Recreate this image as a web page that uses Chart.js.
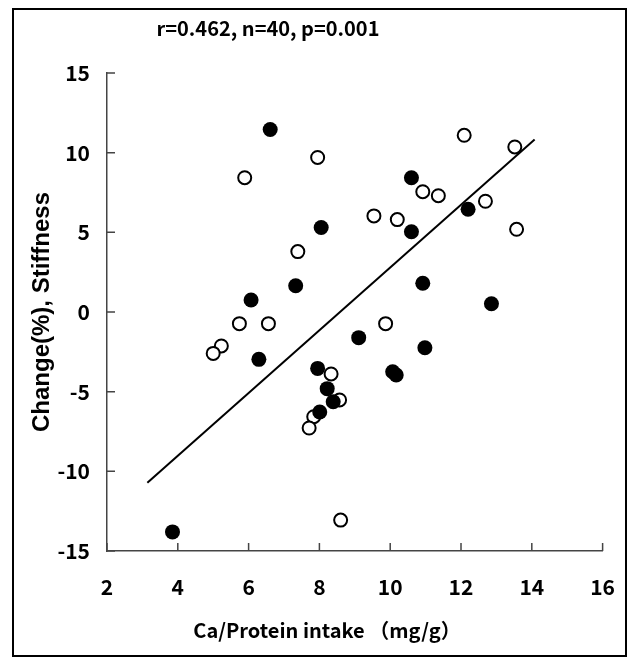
<!DOCTYPE html>
<html>
<head>
<meta charset="utf-8">
<script src="https://cdn.jsdelivr.net/npm/chart.js@4.4.1/dist/chart.umd.min.js"></script>
<style>
  html, body { margin: 0; padding: 0; background: #fff; }
  #wrap { width: 638px; height: 667px; }
</style>
</head>
<body>
<div id="wrap"><canvas id="chart"></canvas></div>
<script>
// values
const filledX = [3.85, 6.61, 8.05, 7.33, 6.07, 6.29, 10.6, 12.2, 10.6, 10.92, 12.86, 9.11, 10.98, 10.07, 10.17, 7.95, 8.22, 8.39, 8.01];
const filledY = [-13.8, 11.45, 5.3, 1.65, 0.75, -2.97, 8.43, 6.45, 5.04, 1.8, 0.52, -1.61, -2.24, -3.75, -3.95, -3.54, -4.81, -5.63, -6.28];

const openX = [7.95, 5.89, 7.39, 5.74, 6.56, 5.23, 5.0, 12.09, 13.52, 10.92, 11.36, 12.69, 9.54, 10.2, 13.57, 9.87, 8.33, 8.57, 7.84, 7.71, 8.6];
const openY = [9.7, 8.43, 3.79, -0.73, -0.73, -2.13, -2.6, 11.09, 10.36, 7.55, 7.3, 6.95, 6.03, 5.8, 5.19, -0.73, -3.89, -5.52, -6.57, -7.28, -13.06];

const fitX = [3.14, 14.08];
const fitY = [-10.71, 10.82];

const xTicks = [2, 4, 6, 8, 10, 12, 14, 16];
const yTicks = [-15, -10, -5, 0, 5, 10, 15];

const titleText = "r=0.462, n=40, p=0.001";
const xTitle = "Ca/Protein intake （mg/g）";
const yTitle = "Change(%), Stiffness";

const toPts = (xs, ys) => xs.map((x, i) => ({ x: x, y: ys[i] }));

const gothic = '"Noto Sans CJK JP", "Noto Sans", sans-serif';

// frame, title, x title and inward tick marks
const decor = {
  id: "decor",
  beforeDraw(chart) {
    const ctx = chart.ctx;
    ctx.save();
    ctx.fillStyle = "#fff";
    ctx.fillRect(0, 0, chart.width, chart.height);
    ctx.strokeStyle = "#000";
    ctx.lineWidth = 2;
    ctx.strokeRect(13, 9, 613, 647);
    ctx.restore();
  },
  afterDraw(chart) {
    const ctx = chart.ctx;
    const xs = chart.scales.x, ys = chart.scales.y;
    ctx.save();
    ctx.strokeStyle = "#444";
    ctx.lineWidth = 1.5;
    ctx.beginPath();
    xs.ticks.forEach(t => {
      const px = xs.getPixelForValue(t.value);
      ctx.moveTo(px, ys.bottom);
      ctx.lineTo(px, ys.bottom - 8);
    });
    ys.ticks.forEach(t => {
      const py = ys.getPixelForValue(t.value);
      ctx.moveTo(xs.left, py);
      ctx.lineTo(xs.left + 8, py);
    });
    ctx.stroke();

    ctx.fillStyle = "#000";
    ctx.textAlign = "center";
    ctx.textBaseline = "middle";
    ctx.font = "bold 20px " + gothic;
    ctx.fillText(titleText, 268, 28);
    ctx.fillText(xTitle, 327, 630);
    ctx.restore();
  }
};

new Chart(document.getElementById("chart"), {
  type: "scatter",
  data: {
    datasets: [
      {
        label: "filled",
        data: toPts(filledX, filledY),
        pointRadius: 7.5,
        pointBackgroundColor: "#000",
        pointBorderColor: "#000",
        pointBorderWidth: 0
      },
      {
        label: "open",
        data: toPts(openX, openY),
        pointRadius: 6.5,
        pointBackgroundColor: "#fff",
        pointBorderColor: "#000",
        pointBorderWidth: 2
      },
      {
        label: "fit",
        type: "line",
        data: toPts(fitX, fitY),
        borderColor: "#000",
        borderWidth: 2,
        pointRadius: 0,
        fill: false
      }
    ]
  },
  options: {
    responsive: true,
    maintainAspectRatio: false,
    animation: false,
    layout: { padding: { left: 0, right: 24, top: 73, bottom: 0 } },
    plugins: { legend: { display: false }, tooltip: { enabled: false } },
    scales: {
      x: {
        type: "linear",
        min: 2, max: 16,
        afterBuildTicks: s => { s.ticks = xTicks.map(v => ({ value: v })); },
        afterFit: s => { s.height = 116; },
        grid: { display: false, drawTicks: false },
        border: { display: true, color: "#444", width: 1.5 },
        ticks: { color: "#000", padding: 23, font: { family: gothic, size: 21, weight: "bold" } }
      },
      y: {
        type: "linear",
        min: -15, max: 15,
        afterBuildTicks: s => { s.ticks = yTicks.map(v => ({ value: v })); },
        afterFit: s => { s.width = 107; },
        grid: { display: false, drawTicks: false },
        border: { display: true, color: "#444", width: 1.5 },
        ticks: { color: "#000", padding: 17, font: { family: gothic, size: 21, weight: "bold" } },
        title: {
          display: true,
          text: yTitle,
          color: "#000",
          padding: { top: 28, bottom: 0 },
          font: { family: '"Liberation Sans", Arial, sans-serif', size: 24, weight: "bold" }
        }
      }
    }
  },
  plugins: [decor]
});
</script>
</body>
</html>
